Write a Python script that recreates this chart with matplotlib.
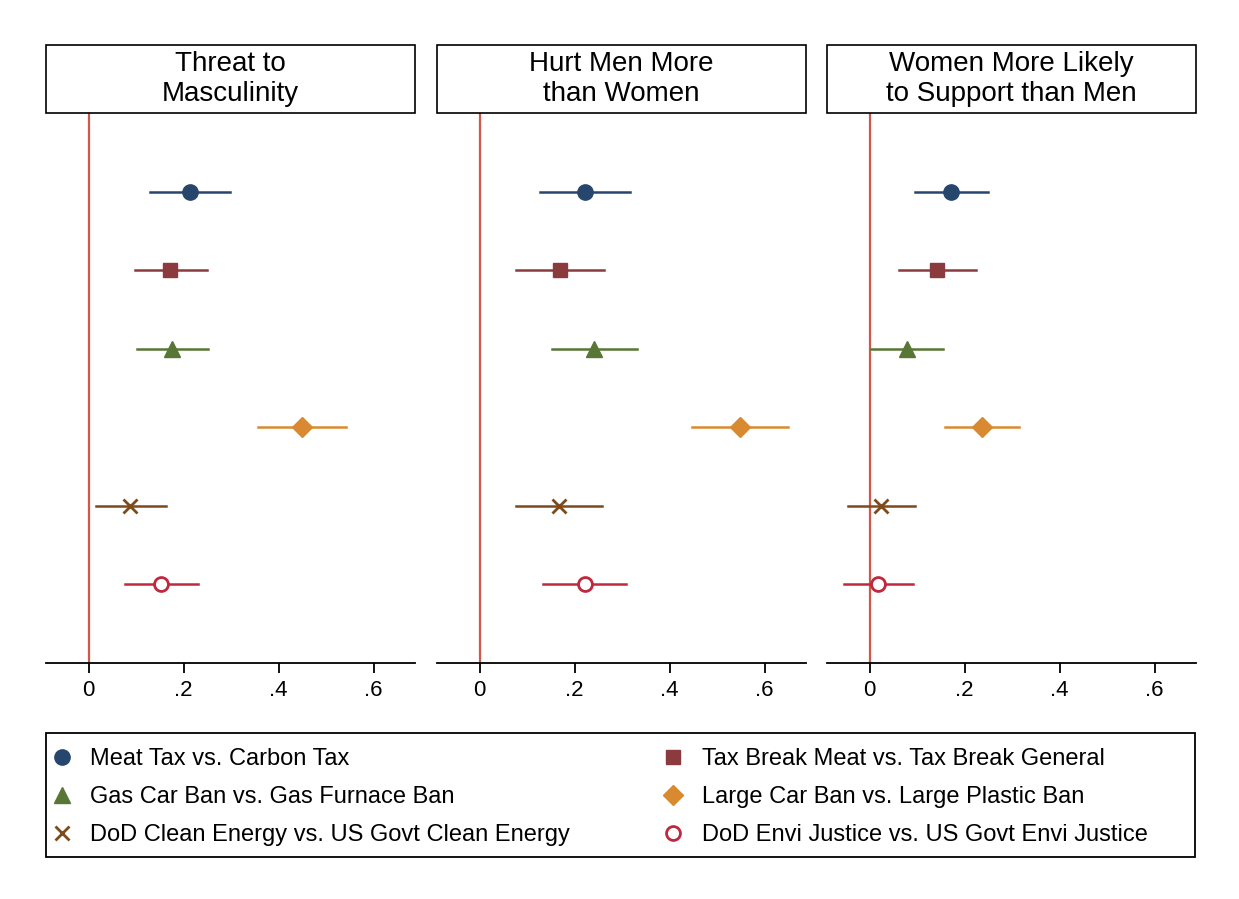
import matplotlib.pyplot as plt
from matplotlib.patches import Rectangle
from matplotlib.lines import Line2D

plt.rcParams['font.family'] = ['Liberation Sans', 'DejaVu Sans']

# panel titles
panels = ['Threat to\nMasculinity', 'Hurt Men More\nthan Women',
          'Women More Likely\nto Support than Men']

series = ['Meat Tax vs. Carbon Tax', 'Tax Break Meat vs. Tax Break General',
          'Gas Car Ban vs. Gas Furnace Ban', 'Large Car Ban vs. Large Plastic Ban',
          'DoD Clean Energy vs. US Govt Clean Energy',
          'DoD Envi Justice vs. US Govt Envi Justice']

# estimates and 95% CI per panel (order as in series)
est = [
    [0.213, 0.172, 0.176, 0.449, 0.087, 0.153],
    [0.221, 0.169, 0.241, 0.548, 0.166, 0.221],
    [0.172, 0.142, 0.078, 0.236, 0.024, 0.018],
]
lo = [
    [0.128, 0.097, 0.101, 0.356, 0.015, 0.077],
    [0.126, 0.077, 0.152, 0.447, 0.076, 0.134],
    [0.095, 0.061, 0.003, 0.158, -0.046, -0.055],
]
hi = [
    [0.298, 0.248, 0.251, 0.542, 0.162, 0.230],
    [0.317, 0.262, 0.332, 0.650, 0.257, 0.307],
    [0.250, 0.223, 0.154, 0.314, 0.096, 0.092],
]

colors = ['#26466d', '#8b3a3e', '#587634', '#d98a30', '#7d4a1b', '#c0283e']
markers = ['o', 's', '^', 'D', 'x', 'o']
msizes = [11, 9.5, 11, 10, 10, 10]
xticks = [0, 0.2, 0.4, 0.6]
xticklabels = ['0', '.2', '.4', '.6']

fig = plt.figure(figsize=(12.39, 8.99), dpi=100)
W, H = 1239, 899
lefts = [46, 437, 827]
aw = 369
top, bottom = 113, 663

for p in range(3):
    ax = fig.add_axes([lefts[p] / W, 1 - bottom / H, aw / W, (bottom - top) / H])
    ax.axvline(0, color='#d0574a', lw=1.6, zorder=1)
    for i in range(6):
        y = 6 - i
        ax.plot([lo[p][i], hi[p][i]], [y, y], color=colors[i], lw=1.8, zorder=2)
        if i == 5:
            ax.plot(est[p][i], y, marker='o', ms=msizes[i], mfc='white',
                    mec=colors[i], mew=2, zorder=3)
        elif i == 4:
            ax.plot(est[p][i], y, marker='x', ms=msizes[i], color=colors[i],
                    mew=2, zorder=3)
        else:
            ax.plot(est[p][i], y, marker=markers[i], ms=msizes[i],
                    color=colors[i], mec=colors[i], zorder=3)
    ax.set_xlim(-0.09, 0.687)
    ax.set_ylim(0, 7)
    ax.set_yticks([])
    for s in ['left', 'right', 'top']:
        ax.spines[s].set_visible(False)
    ax.spines['bottom'].set_linewidth(1.3)
    ax.set_xticks(xticks)
    ax.set_xticklabels(xticklabels, fontsize=16)
    ax.tick_params(axis='x', length=7, width=1.3, pad=5)
    # title box
    bh = 68 / (bottom - top)
    ax.add_patch(Rectangle((0, 1), 1, bh, transform=ax.transAxes, fill=False,
                           ec='black', lw=1.2, clip_on=False))
    ax.text(0.5, 1 + bh / 2, panels[p], transform=ax.transAxes, ha='center',
            va='center', fontsize=20, linespacing=1.2)

# legend: frame plus two columns
handles = []
for i in range(6):
    if i == 5:
        h = Line2D([], [], ls='none', marker='o', ms=10, mfc='white',
                   mec=colors[i], mew=2)
    elif i == 4:
        h = Line2D([], [], ls='none', marker='x', ms=10, color=colors[i], mew=2)
    else:
        h = Line2D([], [], ls='none', marker=markers[i], ms=msizes[i],
                   color=colors[i])
    handles.append(h)

fig.patches.append(Rectangle((46 / W, 1 - 857 / H), (1195 - 46) / W, 124 / H,
                             transform=fig.transFigure, fill=False,
                             ec='black', lw=1.3))
for c, x0 in enumerate([48, 659]):
    idx = [c, c + 2, c + 4]
    fig.legend([handles[k] for k in idx], [series[k] for k in idx],
               loc='center left', bbox_to_anchor=(x0 / W, 1 - 797 / H),
               fontsize=17, frameon=False, handletextpad=0.6,
               handlelength=1.2, labelspacing=0.68, borderaxespad=0,
               borderpad=0)

fig.savefig('out.png', dpi=100)
